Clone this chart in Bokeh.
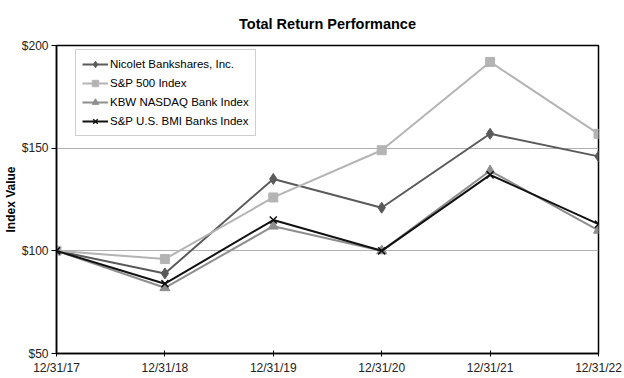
from bokeh.plotting import figure
from bokeh.models import Range1d, FixedTicker, Title, Legend, LegendItem
from bokeh.embed import file_html
from bokeh.resources import INLINE

dates = ["12/31/17", "12/31/18", "12/31/19", "12/31/20", "12/31/21", "12/31/22"]
nicolet = [100, 89, 135, 121, 157, 146]
sp500 = [100, 96, 126, 149, 192, 157]
kbw = [100, 82, 112, 100, 139, 110]
bmi = [100, 84, 115, 100, 137, 113]
y_ticks = [50, 100, 150, 200]

x = list(range(len(dates)))
FONT = "Liberation Sans"

p = figure(width=624, height=378, output_backend="svg", toolbar_location=None,
           x_range=Range1d(0, len(dates) - 1), y_range=Range1d(50, 200),
           min_border_left=8, min_border_right=26, min_border_top=45, min_border_bottom=25)
p.title = Title(text="Total Return Performance", align="center", text_font=FONT,
                text_font_size="14.5px", text_font_style="bold", text_color="black",
                offset=-9, standoff=27)

p.outline_line_color = "black"
p.outline_line_width = 1.5
p.background_fill_color = "white"
p.border_fill_color = "white"

p.xgrid.grid_line_color = None
p.ygrid.grid_line_color = "#b0b0b0"
p.ygrid.grid_line_width = 1

p.xaxis.ticker = FixedTicker(ticks=x)
p.xaxis.major_label_overrides = {i: d for i, d in enumerate(dates)}
p.yaxis.ticker = FixedTicker(ticks=y_ticks)
p.yaxis.major_label_overrides = {v: f"${v}" for v in y_ticks}
for ax in (p.xaxis[0], p.yaxis[0]):
    ax.axis_line_color = "black"
    ax.axis_line_width = 1.5
    ax.major_tick_line_color = "black"
    ax.minor_tick_line_color = None
    ax.major_label_text_font = FONT
    ax.major_label_text_font_size = "12px"
    ax.major_label_text_color = "#222222"
p.xaxis.major_tick_in = 3
p.xaxis.major_tick_out = 3
p.yaxis.major_tick_in = 0
p.yaxis.major_tick_out = 5
p.xaxis.major_label_standoff = 4
p.yaxis.major_label_standoff = 3
p.yaxis.axis_label = "Index Value"
p.yaxis.axis_label_text_font = FONT
p.yaxis.axis_label_text_font_size = "12px"
p.yaxis.axis_label_text_font_style = "bold"
p.yaxis.axis_label_text_color = "black"
p.yaxis.axis_label_standoff = 1

series = [
    ("Nicolet Bankshares, Inc.", nicolet, "#5a5a5a", "diamond", 11),
    ("S&P 500 Index", sp500, "#b4b4b4", "square", 9),
    ("KBW NASDAQ Bank Index", kbw, "#8e8e8e", "triangle", 10),
    ("S&P U.S. BMI Banks Index", bmi, "#111111", "x", 10),
]
items = []
for name, vals, color, marker, size in series:
    r1 = p.line(x, vals, line_color=color, line_width=2)
    r2 = p.scatter(x, vals, marker=marker, size=size, fill_color=color, line_color=color,
                   line_width=1.5 if marker == "x" else 1)
    items.append(LegendItem(label=name, renderers=[r1, r2]))

legend = Legend(items=items, location=(19, 217), margin=0)
legend.border_line_color = "#a0a0a0"
legend.border_line_width = 1
legend.background_fill_color = "white"
legend.background_fill_alpha = 1
legend.label_text_font = FONT
legend.label_text_font_size = "11.5px"
legend.label_text_color = "black"
legend.glyph_width = 26
legend.glyph_height = 16
legend.label_standoff = 2
legend.spacing = 3
legend.padding = 6
p.add_layout(legend)

open("out.html", "w").write(file_html(p, INLINE))
